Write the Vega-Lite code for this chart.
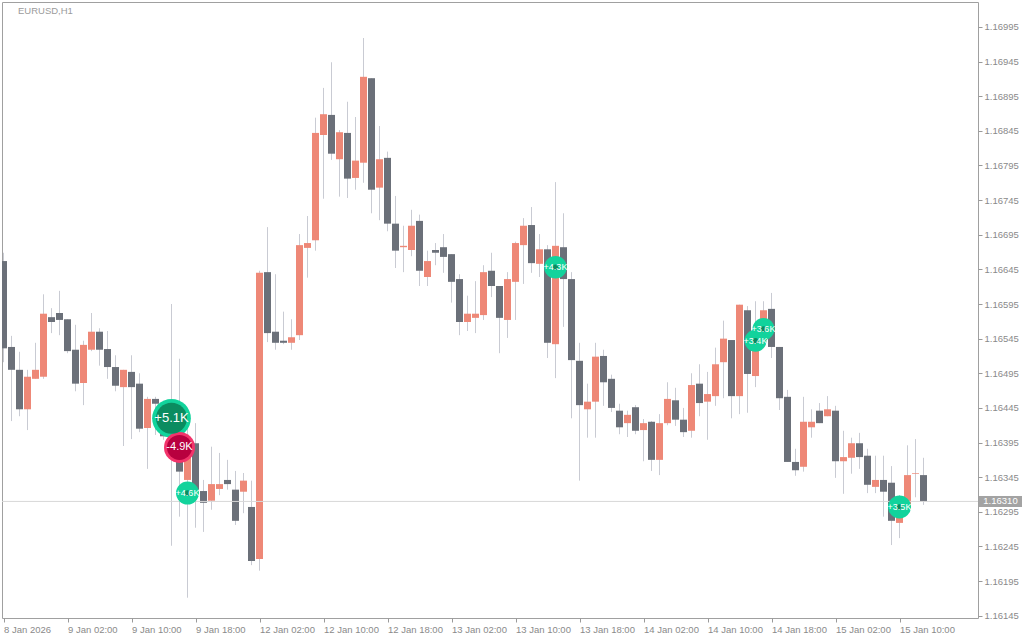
{
"$schema": "https://vega.github.io/schema/vega-lite/v6.json",
"width": 976, "height": 616,
"autosize": {"type": "none"},
"padding": {"left": 2, "top": 2, "right": 46, "bottom": 22},
"background": "#ffffff",
"config": {"view": {"stroke": "#a0a0a0", "strokeWidth": 1}, "font": "Liberation Sans",
  "axis": {"labelOverlap": false, "labelSeparation": 0, "grid": false, "domain": false, "title": null}},
"title": {"text": "EURUSD,H1", "anchor": "start", "frame": "group", "orient": "top", "offset": -13, "dx": 16, "fontSize": 9.5, "fontWeight": "normal", "color": "#9b9b9b", "font": "Liberation Sans"},
"datasets": {
"candles": [
{"i":0,"o":1.16657,"h":1.16669,"l":1.16511,"c":1.16531},
{"i":1,"o":1.16533,"h":1.16549,"l":1.16426,"c":1.16500},
{"i":2,"o":1.16500,"h":1.16526,"l":1.16433,"c":1.16443},
{"i":3,"o":1.16443,"h":1.16500,"l":1.16413,"c":1.16490},
{"i":4,"o":1.16487,"h":1.16539,"l":1.16487,"c":1.16500},
{"i":5,"o":1.16490,"h":1.16609,"l":1.16487,"c":1.16581},
{"i":6,"o":1.16576,"h":1.16589,"l":1.16553,"c":1.16569},
{"i":7,"o":1.16582,"h":1.16614,"l":1.16550,"c":1.16572},
{"i":8,"o":1.16573,"h":1.16573,"l":1.16524,"c":1.16527},
{"i":9,"o":1.16529,"h":1.16565,"l":1.16469,"c":1.16480},
{"i":10,"o":1.16481,"h":1.16542,"l":1.16449,"c":1.16536},
{"i":11,"o":1.16529,"h":1.16582,"l":1.16527,"c":1.16555},
{"i":12,"o":1.16555,"h":1.16560,"l":1.16506,"c":1.16529},
{"i":13,"o":1.16530,"h":1.16556,"l":1.16487,"c":1.16504},
{"i":14,"o":1.16504,"h":1.16521,"l":1.16469,"c":1.16477},
{"i":15,"o":1.16475,"h":1.16500,"l":1.16390,"c":1.16500},
{"i":16,"o":1.16497,"h":1.16521,"l":1.16400,"c":1.16475},
{"i":17,"o":1.16480,"h":1.16495,"l":1.16410,"c":1.16415},
{"i":18,"o":1.16416,"h":1.16461,"l":1.16357,"c":1.16458},
{"i":19,"o":1.16458,"h":1.16461,"l":1.16406,"c":1.16451},
{"i":20,"o":1.16451,"h":1.16451,"l":1.16399,"c":1.16404},
{"i":21,"o":1.16404,"h":1.16595,"l":1.16246,"c":1.16381},
{"i":22,"o":1.16381,"h":1.16516,"l":1.16288,"c":1.16353},
{"i":23,"o":1.16341,"h":1.16423,"l":1.16171,"c":1.16391},
{"i":24,"o":1.16394,"h":1.16423,"l":1.16272,"c":1.16327},
{"i":25,"o":1.16325,"h":1.16341,"l":1.16266,"c":1.16308},
{"i":26,"o":1.16311,"h":1.16389,"l":1.16298,"c":1.16335},
{"i":27,"o":1.16328,"h":1.16380,"l":1.16319,"c":1.16335},
{"i":28,"o":1.16341,"h":1.16370,"l":1.16327,"c":1.16335},
{"i":29,"o":1.16327,"h":1.16354,"l":1.16276,"c":1.16282},
{"i":30,"o":1.16324,"h":1.16351,"l":1.16293,"c":1.16340},
{"i":31,"o":1.16302,"h":1.16340,"l":1.16218,"c":1.16224},
{"i":32,"o":1.16227,"h":1.16643,"l":1.16210,"c":1.16640},
{"i":33,"o":1.16641,"h":1.16706,"l":1.16540,"c":1.16553},
{"i":34,"o":1.16555,"h":1.16638,"l":1.16529,"c":1.16539},
{"i":35,"o":1.16542,"h":1.16584,"l":1.16537,"c":1.16539},
{"i":36,"o":1.16539,"h":1.16573,"l":1.16529,"c":1.16547},
{"i":37,"o":1.16550,"h":1.16696,"l":1.16543,"c":1.16680},
{"i":38,"o":1.16676,"h":1.16722,"l":1.16633,"c":1.16683},
{"i":39,"o":1.16687,"h":1.16864,"l":1.16672,"c":1.16842},
{"i":40,"o":1.16839,"h":1.16907,"l":1.16747,"c":1.16869},
{"i":41,"o":1.16868,"h":1.16944,"l":1.16803,"c":1.16812},
{"i":42,"o":1.16804,"h":1.16846,"l":1.16750,"c":1.16843},
{"i":43,"o":1.16842,"h":1.16887,"l":1.16748,"c":1.16776},
{"i":44,"o":1.16777,"h":1.16865,"l":1.16760,"c":1.16802},
{"i":45,"o":1.16799,"h":1.16979,"l":1.16770,"c":1.16923},
{"i":46,"o":1.16921,"h":1.16921,"l":1.16726,"c":1.16760},
{"i":47,"o":1.16763,"h":1.16852,"l":1.16716,"c":1.16804},
{"i":48,"o":1.16806,"h":1.16815,"l":1.16700,"c":1.16711},
{"i":49,"o":1.16711,"h":1.16751,"l":1.16647,"c":1.16672},
{"i":50,"o":1.16677,"h":1.16708,"l":1.16641,"c":1.16679},
{"i":51,"o":1.16673,"h":1.16731,"l":1.16664,"c":1.16708},
{"i":52,"o":1.16715,"h":1.16724,"l":1.16621,"c":1.16643},
{"i":53,"o":1.16634,"h":1.16672,"l":1.16621,"c":1.16657},
{"i":54,"o":1.16673,"h":1.16683,"l":1.16651,"c":1.16669},
{"i":55,"o":1.16677,"h":1.16696,"l":1.16640,"c":1.16663},
{"i":56,"o":1.16667,"h":1.16667,"l":1.16597,"c":1.16627},
{"i":57,"o":1.16631,"h":1.16638,"l":1.16550,"c":1.16569},
{"i":58,"o":1.16569,"h":1.16607,"l":1.16556,"c":1.16581},
{"i":59,"o":1.16575,"h":1.16628,"l":1.16553,"c":1.16581},
{"i":60,"o":1.16579,"h":1.16651,"l":1.16572,"c":1.16641},
{"i":61,"o":1.16643,"h":1.16669,"l":1.16605,"c":1.16621},
{"i":62,"o":1.16621,"h":1.16621,"l":1.16524,"c":1.16575},
{"i":63,"o":1.16572,"h":1.16641,"l":1.16546,"c":1.16631},
{"i":64,"o":1.16627,"h":1.16685,"l":1.16572,"c":1.16683},
{"i":65,"o":1.16680,"h":1.16719,"l":1.16624,"c":1.16708},
{"i":66,"o":1.16709,"h":1.16735,"l":1.16640,"c":1.16654},
{"i":67,"o":1.16653,"h":1.16696,"l":1.16634,"c":1.16674},
{"i":68,"o":1.16674,"h":1.16680,"l":1.16517,"c":1.16539},
{"i":69,"o":1.16537,"h":1.16771,"l":1.16488,"c":1.16679},
{"i":70,"o":1.16677,"h":1.16726,"l":1.16562,"c":1.16631},
{"i":71,"o":1.16631,"h":1.16641,"l":1.16430,"c":1.16514},
{"i":72,"o":1.16513,"h":1.16539,"l":1.16340,"c":1.16449},
{"i":73,"o":1.16443,"h":1.16480,"l":1.16402,"c":1.16454},
{"i":74,"o":1.16454,"h":1.16539,"l":1.16402,"c":1.16519},
{"i":75,"o":1.16520,"h":1.16529,"l":1.16448,"c":1.16482},
{"i":76,"o":1.16487,"h":1.16493,"l":1.16439,"c":1.16445},
{"i":77,"o":1.16441,"h":1.16451,"l":1.16407,"c":1.16417},
{"i":78,"o":1.16423,"h":1.16441,"l":1.16403,"c":1.16435},
{"i":79,"o":1.16446,"h":1.16449,"l":1.16407,"c":1.16412},
{"i":80,"o":1.16413,"h":1.16429,"l":1.16368,"c":1.16423},
{"i":81,"o":1.16425,"h":1.16426,"l":1.16354,"c":1.16370},
{"i":82,"o":1.16370,"h":1.16436,"l":1.16348,"c":1.16423},
{"i":83,"o":1.16423,"h":1.16482,"l":1.16420,"c":1.16458},
{"i":84,"o":1.16456,"h":1.16474,"l":1.16419,"c":1.16428},
{"i":85,"o":1.16428,"h":1.16445,"l":1.16403,"c":1.16410},
{"i":86,"o":1.16412,"h":1.16495,"l":1.16402,"c":1.16478},
{"i":87,"o":1.16480,"h":1.16508,"l":1.16433,"c":1.16452},
{"i":88,"o":1.16454,"h":1.16497,"l":1.16399,"c":1.16465},
{"i":89,"o":1.16462,"h":1.16532,"l":1.16448,"c":1.16508},
{"i":90,"o":1.16511,"h":1.16571,"l":1.16459,"c":1.16545},
{"i":91,"o":1.16543,"h":1.16543,"l":1.16430,"c":1.16462},
{"i":92,"o":1.16462,"h":1.16594,"l":1.16436,"c":1.16594},
{"i":93,"o":1.16586,"h":1.16592,"l":1.16438,"c":1.16494},
{"i":94,"o":1.16491,"h":1.16599,"l":1.16475,"c":1.16543},
{"i":95,"o":1.16543,"h":1.16599,"l":1.16536,"c":1.16586},
{"i":96,"o":1.16588,"h":1.16611,"l":1.16517,"c":1.16533},
{"i":97,"o":1.16533,"h":1.16533,"l":1.16442,"c":1.16459},
{"i":98,"o":1.16461,"h":1.16471,"l":1.16367,"c":1.16367},
{"i":99,"o":1.16367,"h":1.16386,"l":1.16347,"c":1.16355},
{"i":100,"o":1.16360,"h":1.16461,"l":1.16353,"c":1.16425},
{"i":101,"o":1.16417,"h":1.16443,"l":1.16402,"c":1.16425},
{"i":102,"o":1.16441,"h":1.16452,"l":1.16423,"c":1.16423},
{"i":103,"o":1.16433,"h":1.16462,"l":1.16433,"c":1.16443},
{"i":104,"o":1.16441,"h":1.16448,"l":1.16344,"c":1.16368},
{"i":105,"o":1.16368,"h":1.16412,"l":1.16321,"c":1.16374},
{"i":106,"o":1.16373,"h":1.16402,"l":1.16350,"c":1.16394},
{"i":107,"o":1.16394,"h":1.16409,"l":1.16357,"c":1.16374},
{"i":108,"o":1.16376,"h":1.16386,"l":1.16322,"c":1.16334},
{"i":109,"o":1.16331,"h":1.16376,"l":1.16322,"c":1.16341},
{"i":110,"o":1.16341,"h":1.16376,"l":1.16288,"c":1.16324},
{"i":111,"o":1.16337,"h":1.16361,"l":1.16247,"c":1.16282},
{"i":112,"o":1.16279,"h":1.16319,"l":1.16257,"c":1.16305},
{"i":113,"o":1.16305,"h":1.16391,"l":1.16305,"c":1.16348},
{"i":114,"o":1.16350,"h":1.16400,"l":1.16316,"c":1.16351},
{"i":115,"o":1.16348,"h":1.16373,"l":1.16305,"c":1.16310}
],
"trades": [
{"i":21,"p":1.16430,"t":"+5.1K"},
{"i":22,"p":1.16388,"t":"-4.9K"},
{"i":23,"p":1.16322,"t":"+4.6K"},
{"i":69,"p":1.16648,"t":"+4.3K"},
{"i":95,"p":1.16559,"t":"+3.6K"},
{"i":94,"p":1.16542,"t":"+3.4K"},
{"i":112,"p":1.16302,"t":"+3.5K"}
],
"last": [{"price": 1.16310, "label": "1.16310"}]
},
"layer": [
{"data": {"name": "candles"},
 "mark": {"type": "rule", "color": "#c9cbd3", "strokeWidth": 1, "clip": true},
 "encoding": {
  "x": {"field": "i", "type": "quantitative", "title": null,
   "scale": {"domain": [-0.1875, 121.8125], "nice": false, "zero": false, "padding": 0},
   "axis": {"values": [0,8,16,24,32,40,48,56,64,72,80,88,96,104,112],
    "labelExpr": "['8 Jan 2026','9 Jan 02:00','9 Jan 10:00','9 Jan 18:00','12 Jan 02:00','12 Jan 10:00','12 Jan 18:00','13 Jan 02:00','13 Jan 10:00','13 Jan 18:00','14 Jan 02:00','14 Jan 10:00','14 Jan 18:00','15 Jan 02:00','15 Jan 10:00'][datum.value/8]",
    "tickCount": 40, "labelAlign": "left", "labelFlush": false, "labelOverlap": false, "labelBound": false,
    "labelOffset": 0, "tickSize": 4, "tickColor": "#9a9a9a", "labelColor": "#8a8a8a",
    "labelFontSize": 9.5, "labelFont": "Liberation Sans", "labelPadding": 2, "domain": false, "grid": false, "title": null}},
  "y": {"field": "l", "type": "quantitative", "title": null,
   "scale": {"domain": [1.161417, 1.170310], "nice": false, "zero": false, "padding": 0},
   "axis": {"orient": "right", "values": [1.16145,1.16195,1.16245,1.16295,1.16345,1.16395,1.16445,1.16495,1.16545,1.16595,1.16645,1.16695,1.16745,1.16795,1.16845,1.16895,1.16945,1.16995],
    "tickCount": 40, "format": ".5f", "tickSize": 4, "tickColor": "#9a9a9a", "labelColor": "#8a8a8a",
    "labelFontSize": 9.5, "labelFont": "Liberation Sans", "labelPadding": 2, "labelOverlap": false, "labelFlush": false, "labelBound": false, "domain": false, "grid": false, "title": null}},
  "y2": {"field": "h"}
 }},
{"data": {"name": "candles"},
 "mark": {"type": "bar", "width": 7, "clip": true},
 "encoding": {
  "x": {"field": "i", "type": "quantitative", "title": null},
  "y": {"field": "o", "type": "quantitative", "title": null},
  "y2": {"field": "c"},
  "color": {"condition": {"test": "datum.c > datum.o", "value": "#ee8877"}, "value": "#6b7079"}
 }},
{"data": {"name": "last"},
 "mark": {"type": "rule", "color": "#d8d8d8", "strokeWidth": 1},
 "encoding": {"y": {"field": "price", "type": "quantitative", "title": null}}},
{"data": {"name": "trades"},
 "mark": {"type": "point", "filled": true, "opacity": 1, "shape": "circle"},
 "encoding": {
  "x": {"field": "i", "type": "quantitative", "title": null},
  "y": {"field": "p", "type": "quantitative", "title": null},
  "size": {"field": "t", "type": "nominal", "legend": null,
   "scale": {"type": "ordinal", "domain": ["+5.1K","-4.9K","+4.6K","+4.3K","+3.6K","+3.4K","+3.5K"], "range": [1500, 961, 529, 510, 484, 484, 529]}},
  "color": {"condition": {"test": "indexof(datum.t,'-') == 0", "value": "#f2346b"}, "value": "#12d39c"}
 }},
{"data": {"name": "trades"},
 "mark": {"type": "point", "filled": true, "opacity": 1, "shape": "circle"},
 "encoding": {
  "x": {"field": "i", "type": "quantitative", "title": null},
  "y": {"field": "p", "type": "quantitative", "title": null},
  "size": {"field": "t", "type": "nominal", "legend": null,
   "scale": {"type": "ordinal", "domain": ["+5.1K","-4.9K","+4.6K","+4.3K","+3.6K","+3.4K","+3.5K"], "range": [961, 625, 30, 30, 30, 30, 30]}},
  "color": {"condition": {"test": "indexof(datum.t,'-') == 0", "value": "#b8003f"}, "value": "#0b8c60"}
 }},
{"data": {"name": "trades"},
 "mark": {"type": "text", "color": "#ffffff", "font": "Liberation Sans", "align": "center", "baseline": "middle"},
 "encoding": {
  "x": {"field": "i", "type": "quantitative", "title": null},
  "y": {"field": "p", "type": "quantitative", "title": null},
  "text": {"field": "t"},
  "size": {"field": "t", "type": "nominal", "legend": null,
   "scale": {"type": "ordinal", "domain": ["+5.1K","-4.9K","+4.6K","+4.3K","+3.6K","+3.4K","+3.5K"], "range": [13, 11, 9, 9, 9, 9, 9]}}
 }},
{"data": {"name": "last"},
 "mark": {"type": "point", "filled": true, "opacity": 1, "clip": false, "color": "#a3a3a3", "shape": "M-2.15,-0.55H2.15V0.55H-2.15Z", "size": 400},
 "encoding": {
  "x": {"datum": 124.625, "type": "quantitative"},
  "y": {"field": "price", "type": "quantitative", "title": null}
 }},
{"data": {"name": "last"},
 "mark": {"type": "text", "clip": false, "color": "#ffffff", "font": "Liberation Sans", "fontSize": 9.5, "align": "center", "baseline": "middle"},
 "encoding": {
  "x": {"datum": 124.625, "type": "quantitative"},
  "y": {"field": "price", "type": "quantitative", "title": null},
  "text": {"field": "label"}
 }}
],
"resolve": {"scale": {"size": "independent"}}
}
